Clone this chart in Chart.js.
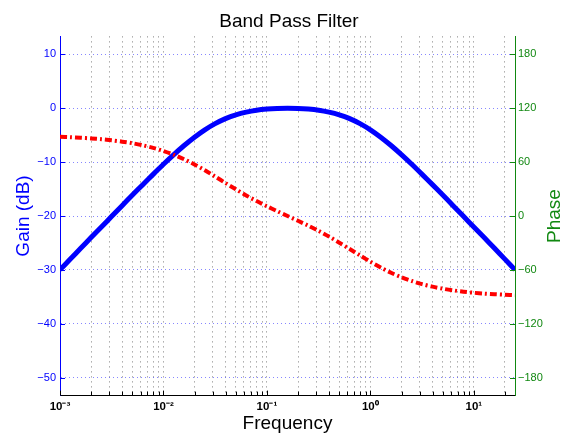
<!DOCTYPE html>
<html><head><meta charset="utf-8">
<script src="https://cdn.jsdelivr.net/npm/chart.js@4.4.0/dist/chart.umd.min.js"></script>
<style>html,body{margin:0;padding:0;background:#fff}#wrap{width:569px;height:441px;position:relative}</style>
</head><body><div id="wrap"><canvas id="c" width="569" height="441"></canvas></div>
<script>
// ---- data ----
const frequency = [0.001, 0.001259, 0.001585, 0.001995, 0.002512, 0.003162, 0.003981, 0.005012, 0.00631, 0.007943,
                   0.01, 0.01259, 0.01585, 0.01995, 0.02512, 0.03162, 0.03981, 0.05012, 0.0631, 0.07943,
                   0.1, 0.1259, 0.1585, 0.1995, 0.2512, 0.3162, 0.3981, 0.5012, 0.631, 0.7943,
                   1, 1.259, 1.585, 1.995, 2.512, 3.162, 3.981, 5.012, 6.31, 7.943,
                   10, 12.59, 15.85, 19.95, 25];
const gainDb = [-30.0, -28.0, -26.0, -24.0, -22.05, -20.06, -18.08, -16.12, -14.18, -12.27,
                -10.4, -8.61, -6.92, -5.37, -4.0, -2.85, -1.92, -1.22, -0.72, -0.37,
                -0.16, -0.04, 0.0, -0.04, -0.16, -0.37, -0.72, -1.22, -1.92, -2.85,
                -4.0, -5.37, -6.92, -8.61, -10.4, -12.27, -14.18, -16.12, -18.08, -20.06,
                -22.05, -24.0, -26.0, -28.0, -30.0];
const phaseDeg = [88.2, 87.7, 87.1, 86.4, 85.5, 84.3, 82.8, 81.0, 78.7, 75.9,
                  72.4, 68.2, 63.2, 57.4, 50.9, 43.9, 36.7, 29.7, 22.9, 16.6,
                  10.8, 5.3, 0.0, -5.3, -10.8, -16.6, -22.9, -29.7, -36.7, -43.9,
                  -50.9, -57.4, -63.2, -68.2, -72.4, -75.9, -78.7, -81.0, -82.8, -84.3,
                  -85.5, -86.4, -87.1, -87.7, -88.2];
const gainTicks = [-50, -40, -30, -20, -10, 0, 10];
const phaseTicks = [-180, -120, -60, 0, 60, 120, 180];
const decadeLabels = {'-3': '10⁻³', '-2': '10⁻²', '-1': '10⁻¹', '0': '10⁰', '1': '10¹'};
const decades = [0.001, 0.01, 0.1, 1, 10];
const mantissas = [1, 2, 3, 4, 5, 6, 7, 8, 9];

const BLUE = '#0000ff', GREEN = '#118811', RED = '#ff0000';
Chart.defaults.font.family = "'Liberation Sans', Arial, Helvetica, sans-serif";

const inwardTicks = {
  id: 'inwardTicks',
  afterDraw(chart) {
    const {ctx, chartArea: a, scales} = chart;
    ctx.save();
    ctx.lineWidth = 1;
    ctx.strokeStyle = '#000';
    scales.x.ticks.forEach(t => {
      const p = Math.round(scales.x.getPixelForValue(t.value)) + 0.5;
      ctx.beginPath(); ctx.moveTo(p, a.bottom); ctx.lineTo(p, a.bottom - (t.major ? 5 : 4)); ctx.stroke();
    });
    ctx.strokeStyle = BLUE;
    scales.y.ticks.forEach(t => {
      const p = Math.round(scales.y.getPixelForValue(t.value)) + 0.5;
      ctx.beginPath(); ctx.moveTo(a.left, p); ctx.lineTo(a.left + 5, p); ctx.stroke();
    });
    ctx.strokeStyle = GREEN;
    scales.y2.ticks.forEach(t => {
      const p = Math.round(scales.y2.getPixelForValue(t.value)) + 0.5;
      ctx.beginPath(); ctx.moveTo(a.right, p); ctx.lineTo(a.right - 5, p); ctx.stroke();
    });
    // right axis title, reading bottom-to-top
    ctx.fillStyle = GREEN;
    ctx.font = "19px 'Liberation Sans', Arial, sans-serif";
    ctx.textAlign = 'center';
    ctx.textBaseline = 'middle';
    ctx.translate(554.5, (a.top + a.bottom) / 2);
    ctx.rotate(-Math.PI / 2);
    ctx.fillText('Phase', 0, 0);
    ctx.restore();
  }
};

new Chart(document.getElementById('c'), {
  type: 'line',
  data: {
    datasets: [
      {
        label: 'Phase',
        data: frequency.map((f, i) => ({x: f, y: phaseDeg[i]})),
        yAxisID: 'y2',
        borderColor: RED,
        borderWidth: 4,
        borderDash: [7, 3, 2, 3],
        borderCapStyle: 'butt',
        pointRadius: 0,
        tension: 0.3,
        fill: false
      },
      {
        label: 'Gain',
        data: frequency.map((f, i) => ({x: f, y: gainDb[i]})),
        yAxisID: 'y',
        borderColor: BLUE,
        borderWidth: 5,
        pointRadius: 0,
        tension: 0.3,
        fill: false
      }
    ]
  },
  options: {
    responsive: false,
    animation: false,
    devicePixelRatio: 1,
    layout: {padding: {left: 9, right: 0, top: 0, bottom: 0}},
    plugins: {
      legend: {display: false},
      tooltip: {enabled: false},
      title: {
        display: true,
        text: 'Band Pass Filter',
        color: '#000',
        font: {size: 19, weight: 'normal'},
        padding: {top: 10, bottom: 3.6}
      }
    },
    scales: {
      x: {
        type: 'logarithmic',
        position: 'bottom',
        min: 0.001,
        max: 25,
        afterBuildTicks(scale) {
          const t = [];
          decades.forEach(d => mantissas.forEach(m => {
            const v = d * m;
            if (v <= 25 + 1e-9) t.push({value: v, major: m === 1});
          }));
          scale.ticks = t;
        },
        afterFit(scale) { scale.height = 45.4; },
        grid: {color: 'rgba(0,0,0,0.5)', lineWidth: 1, drawTicks: false},
        border: {display: true, color: '#000', width: 1, dash: [1, 4]},
        ticks: {
          autoSkip: false,
          maxRotation: 0,
          minRotation: 0,
          padding: 4,
          color: '#000',
          font: {size: 11.5, weight: 'bold'},
          callback(value) {
            const e = Math.log10(value);
            if (Math.abs(e - Math.round(e)) < 1e-6) return decadeLabels[String(Math.round(e))] || '';
            return '';
          }
        },
        title: {
          display: true,
          text: 'Frequency',
          color: '#000',
          font: {size: 19},
          padding: {top: 0, bottom: 6}
        }
      },
      y: {
        type: 'linear',
        position: 'left',
        min: -53.333,
        max: 13.333,
        afterBuildTicks(scale) { scale.ticks = gainTicks.map(v => ({value: v})); },
        afterFit(scale) { scale.width = 51; },
        grid: {color: 'rgba(70,70,255,0.65)', lineWidth: 1, drawTicks: false},
        border: {display: true, color: BLUE, width: 1, dash: [1, 3]},
        ticks: {
          padding: 4,
          color: BLUE,
          font: {size: 11},
          callback(v) { return v < 0 ? '−' + Math.abs(v) : String(v); }
        },
        title: {
          display: true,
          text: 'Gain (dB)',
          color: BLUE,
          font: {size: 19},
          padding: {top: 3, bottom: 0}
        }
      },
      y2: {
        type: 'linear',
        position: 'right',
        min: -200,
        max: 200,
        afterBuildTicks(scale) { scale.ticks = phaseTicks.map(v => ({value: v})); },
        afterFit(scale) { scale.width = 54; },
        grid: {display: false, drawOnChartArea: false, drawTicks: false},
        border: {display: true, color: GREEN, width: 1},
        ticks: {
          padding: 3,
          color: GREEN,
          font: {size: 11},
          callback(v) { return v < 0 ? '−' + Math.abs(v) : String(v); }
        }
      }
    }
  },
  plugins: [inwardTicks]
});
</script>
</body></html>
